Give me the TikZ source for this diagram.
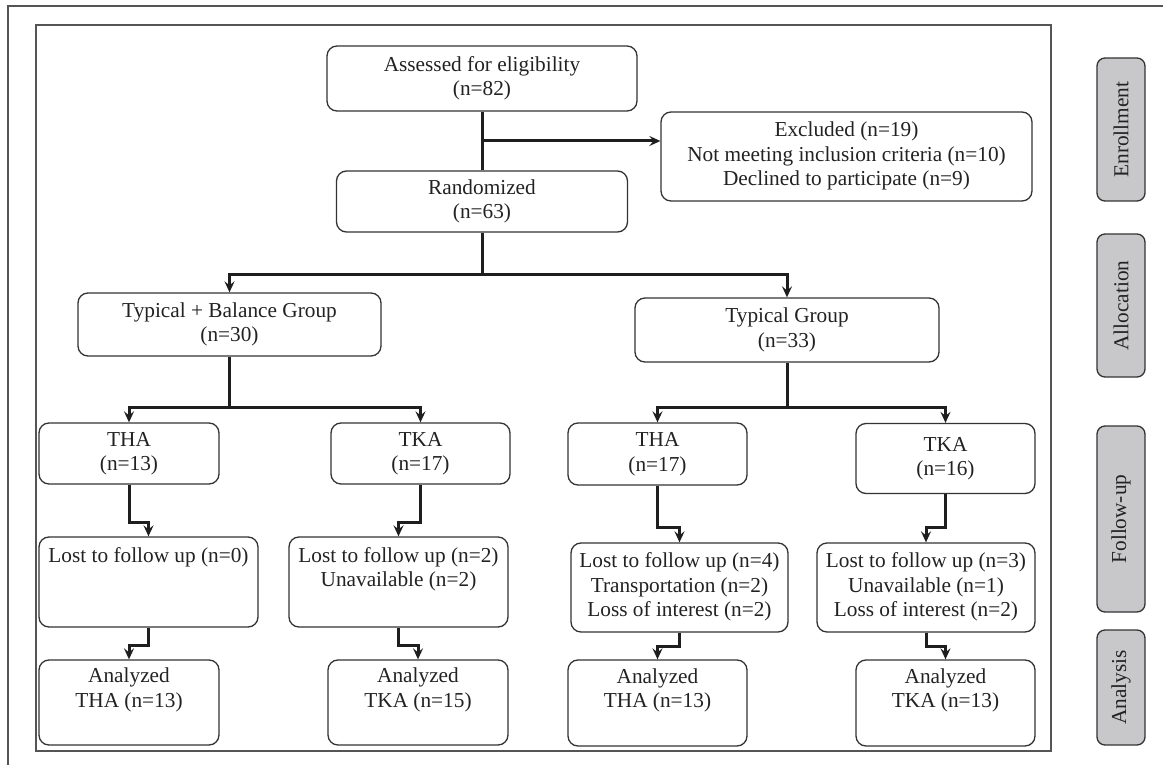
\documentclass[tikz,border=0pt]{standalone}
\usepackage{fontspec}
\setmainfont{Liberation Serif}
\usetikzlibrary{arrows.meta,calc}
\definecolor{boxc}{HTML}{333333}
\definecolor{linec}{HTML}{1E1E1E}
\definecolor{txtc}{HTML}{222222}
\definecolor{framec}{HTML}{555555}
\definecolor{phasec}{HTML}{C8C8CA}
\begin{document}
\begin{tikzpicture}[x=1pt,y=-1pt,
  box/.style={draw=boxc, line width=1.3pt, rounded corners=10pt, align=center,
    inner sep=0pt, text=txtc, font=\fontsize{21.3}{24.5}\selectfont},
  phase/.style={draw=boxc, fill=phasec, line width=1.3pt, rounded corners=8pt,
    inner sep=0pt, text=txtc, rotate=90, font=\fontsize{21.3}{24.5}\selectfont},
  conn/.style={line width=3pt, draw=linec},
  arr/.style={conn, -{Stealth[length=11pt,width=10pt,inset=4pt]}}
]
\useasboundingbox (0,0) rectangle (1163,765);
% frames
\draw[framec, line width=1.5pt] (8,765) -- (8,6) -- (1163,6);
\draw[framec, line width=1.2pt] (36,25) rectangle (1051,751);

% phase labels
\node[phase, minimum width=143pt, minimum height=48pt] (ph1) at (1121,129.5) {Enrollment};
\node[phase, minimum width=143pt, minimum height=48pt] (ph2) at (1121,305.5) {Allocation};
\node[phase, minimum width=186pt, minimum height=48pt] (ph3) at (1121,519) {Follow-up};
\node[phase, minimum width=115pt, minimum height=48pt] (ph4) at (1121,687.5) {Analysis};

% boxes
\node[box, minimum width=310pt, minimum height=65pt] (ass) at (482,78.5) {\strut Assessed for eligibility\\\strut(n=82)};
\node[box, minimum width=291pt, minimum height=61pt] (rand) at (482,201.5) {\strut Randomized\\\strut(n=63)};
\node[box, minimum width=371pt, minimum height=89pt] (exc) at (846.5,156.5) {\strut Excluded (n=19)\\\strut Not meeting inclusion criteria (n=10)\\\strut Declined to participate (n=9)};
\node[box, minimum width=303pt, minimum height=63pt] (tb) at (229.5,324.5) {\strut Typical + Balance Group\\\strut(n=30)};
\node[box, minimum width=304pt, minimum height=64pt] (tg) at (787,330) {\strut Typical Group\\\strut(n=33)};

\node[box, minimum width=180pt, minimum height=61pt] (tha1) at (129,453.5) {\strut THA\\\strut(n=13)};
\node[box, minimum width=179pt, minimum height=61pt] (tka1) at (420.5,453.5) {\strut TKA\\\strut(n=17)};
\node[box, minimum width=179pt, minimum height=62pt] (tha2) at (657.5,454) {\strut THA\\\strut(n=17)};
\node[box, minimum width=179pt, minimum height=70pt] (tka2) at (945.5,458.5) {\strut TKA\\\strut(n=16)};

\node[box, minimum width=219pt, minimum height=90pt] (lost1) at (148.5,582) {\strut Lost to follow up (n=0)\\\strut\\\strut};
\node[box, minimum width=219pt, minimum height=90pt] (lost2) at (398.5,582) {\strut Lost to follow up (n=2)\\\strut Unavailable (n=2)\\\strut};
\node[box, minimum width=217pt, minimum height=89pt] (lost3) at (679.5,587.5) {\strut Lost to follow up (n=4)\\\strut Transportation (n=2)\\\strut Loss of interest (n=2)};
\node[box, minimum width=218pt, minimum height=89pt] (lost4) at (926,587.5) {\strut Lost to follow up (n=3)\\\strut Unavailable (n=1)\\\strut Loss of interest (n=2)};

\node[box, minimum width=180pt, minimum height=85pt] (an1) at (129,702.5) {\strut Analyzed\\\strut THA (n=13)\\\strut};
\node[box, minimum width=180pt, minimum height=85pt] (an2) at (418,702.5) {\strut Analyzed\\\strut TKA (n=15)\\\strut};
\node[box, minimum width=179pt, minimum height=86pt] (an3) at (657.5,703) {\strut Analyzed\\\strut THA (n=13)\\\strut};
\node[box, minimum width=179pt, minimum height=86pt] (an4) at (945.5,703) {\strut Analyzed\\\strut TKA (n=13)\\\strut};

% connectors
\draw[conn] (ass.south) -- (ass.south |- rand.north);
\coordinate (br) at (482,141);
\draw[arr] (br) -- (br -| exc.west);
\draw[conn] (rand.south) -- ++(0,42) coordinate (s1);
\draw[arr] (s1) -| (tb.north);
\draw[arr] (s1) -| (tg.north);
\draw[conn] (tb.south) -- ++(0,51) coordinate (s2);
\draw[arr] (s2) -| (tha1.north);
\draw[arr] (s2) -| (tka1.north);
\draw[conn] (tg.south) -- ++(0,45) coordinate (s3);
\draw[arr] (s3) -| (tha2.north);
\draw[arr] (s3) -| (tka2.north);

\draw[arr] (tha1.south) -- ++(0,38) -| (lost1.north);
\draw[arr] (tka1.south) -- ++(0,38) -| (lost2.north);
\draw[arr] (tha2.south) -- ++(0,42) -| (lost3.north);
\draw[arr] (tka2.south) -- ++(0,33.5) -| (lost4.north);

\draw[arr] (lost1.south) -- ++(0,18) -| (an1.north);
\draw[arr] (lost2.south) -- ++(0,18) -| (an2.north);
\draw[arr] (lost3.south) -- ++(0,14) -| (an3.north);
\draw[arr] (lost4.south) -- ++(0,14) -| (an4.north);
\end{tikzpicture}
\end{document}
